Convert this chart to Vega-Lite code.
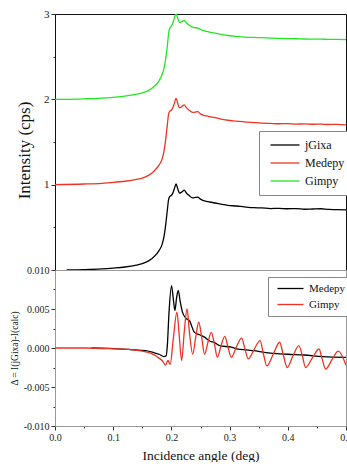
{
  "$schema": "https://vega.github.io/schema/vega-lite/v6.json",
  "padding": {"left": 8, "top": 7, "right": 0, "bottom": 0},
  "spacing": 0,
  "bounds": "flush",
  "background": "white",
  "config": {
    "font": "Liberation Serif",
    "axis": {"labelFont": "Liberation Serif", "titleFont": "Liberation Serif", "labelColor": "#222", "titleColor": "#111", "grid": false, "labelFontSize": 10, "titleFontWeight": "normal", "tickColor": "#333", "domainColor": "#666"},
    "legend": {"labelFont": "Liberation Serif", "titleFont": "Liberation Serif"},
    "line": {"interpolate": "monotone", "strokeWidth": 1.3}
  },
  "datasets": {
    "top": [
      {"angle": 0.02, "intensity": 0.0, "series": "jGixa"},
      {"angle": 0.05, "intensity": 0.004, "series": "jGixa"},
      {"angle": 0.08, "intensity": 0.012, "series": "jGixa"},
      {"angle": 0.10, "intensity": 0.022, "series": "jGixa"},
      {"angle": 0.12, "intensity": 0.035, "series": "jGixa"},
      {"angle": 0.14, "intensity": 0.058, "series": "jGixa"},
      {"angle": 0.15, "intensity": 0.075, "series": "jGixa"},
      {"angle": 0.1615, "intensity": 0.11, "series": "jGixa"},
      {"angle": 0.17, "intensity": 0.155, "series": "jGixa"},
      {"angle": 0.179, "intensity": 0.23, "series": "jGixa"},
      {"angle": 0.184, "intensity": 0.30, "series": "jGixa"},
      {"angle": 0.1875, "intensity": 0.40, "series": "jGixa"},
      {"angle": 0.19, "intensity": 0.52, "series": "jGixa"},
      {"angle": 0.193, "intensity": 0.70, "series": "jGixa"},
      {"angle": 0.195, "intensity": 0.82, "series": "jGixa"},
      {"angle": 0.197, "intensity": 0.86, "series": "jGixa"},
      {"angle": 0.2, "intensity": 0.875, "series": "jGixa"},
      {"angle": 0.202, "intensity": 0.895, "series": "jGixa"},
      {"angle": 0.205, "intensity": 0.95, "series": "jGixa"},
      {"angle": 0.208, "intensity": 1.01, "series": "jGixa"},
      {"angle": 0.211, "intensity": 0.95, "series": "jGixa"},
      {"angle": 0.214, "intensity": 0.90, "series": "jGixa"},
      {"angle": 0.218, "intensity": 0.915, "series": "jGixa"},
      {"angle": 0.222, "intensity": 0.935, "series": "jGixa"},
      {"angle": 0.226, "intensity": 0.90, "series": "jGixa"},
      {"angle": 0.23, "intensity": 0.875, "series": "jGixa"},
      {"angle": 0.2366, "intensity": 0.845, "series": "jGixa"},
      {"angle": 0.241, "intensity": 0.85, "series": "jGixa"},
      {"angle": 0.245, "intensity": 0.855, "series": "jGixa"},
      {"angle": 0.25, "intensity": 0.83, "series": "jGixa"},
      {"angle": 0.254, "intensity": 0.815, "series": "jGixa"},
      {"angle": 0.26, "intensity": 0.805, "series": "jGixa"},
      {"angle": 0.2656, "intensity": 0.797, "series": "jGixa"},
      {"angle": 0.275, "intensity": 0.785, "series": "jGixa"},
      {"angle": 0.283, "intensity": 0.775, "series": "jGixa"},
      {"angle": 0.297, "intensity": 0.758, "series": "jGixa"},
      {"angle": 0.312, "intensity": 0.75, "series": "jGixa"},
      {"angle": 0.325, "intensity": 0.74, "series": "jGixa"},
      {"angle": 0.341, "intensity": 0.73, "series": "jGixa"},
      {"angle": 0.355, "intensity": 0.728, "series": "jGixa"},
      {"angle": 0.37, "intensity": 0.72, "series": "jGixa"},
      {"angle": 0.385, "intensity": 0.722, "series": "jGixa"},
      {"angle": 0.399, "intensity": 0.718, "series": "jGixa"},
      {"angle": 0.415, "intensity": 0.72, "series": "jGixa"},
      {"angle": 0.428, "intensity": 0.712, "series": "jGixa"},
      {"angle": 0.443, "intensity": 0.715, "series": "jGixa"},
      {"angle": 0.457, "intensity": 0.718, "series": "jGixa"},
      {"angle": 0.47, "intensity": 0.71, "series": "jGixa"},
      {"angle": 0.485, "intensity": 0.708, "series": "jGixa"},
      {"angle": 0.5, "intensity": 0.705, "series": "jGixa"},

      {"angle": 0.0, "intensity": 1.0, "series": "Medepy"},
      {"angle": 0.05, "intensity": 1.008, "series": "Medepy"},
      {"angle": 0.08, "intensity": 1.016, "series": "Medepy"},
      {"angle": 0.10, "intensity": 1.026, "series": "Medepy"},
      {"angle": 0.12, "intensity": 1.04, "series": "Medepy"},
      {"angle": 0.14, "intensity": 1.062, "series": "Medepy"},
      {"angle": 0.15, "intensity": 1.078, "series": "Medepy"},
      {"angle": 0.1615, "intensity": 1.112, "series": "Medepy"},
      {"angle": 0.17, "intensity": 1.157, "series": "Medepy"},
      {"angle": 0.179, "intensity": 1.232, "series": "Medepy"},
      {"angle": 0.184, "intensity": 1.30, "series": "Medepy"},
      {"angle": 0.1875, "intensity": 1.40, "series": "Medepy"},
      {"angle": 0.19, "intensity": 1.52, "series": "Medepy"},
      {"angle": 0.193, "intensity": 1.70, "series": "Medepy"},
      {"angle": 0.195, "intensity": 1.82, "series": "Medepy"},
      {"angle": 0.197, "intensity": 1.86, "series": "Medepy"},
      {"angle": 0.2, "intensity": 1.875, "series": "Medepy"},
      {"angle": 0.202, "intensity": 1.895, "series": "Medepy"},
      {"angle": 0.205, "intensity": 1.95, "series": "Medepy"},
      {"angle": 0.208, "intensity": 2.01, "series": "Medepy"},
      {"angle": 0.211, "intensity": 1.95, "series": "Medepy"},
      {"angle": 0.214, "intensity": 1.90, "series": "Medepy"},
      {"angle": 0.218, "intensity": 1.915, "series": "Medepy"},
      {"angle": 0.222, "intensity": 1.935, "series": "Medepy"},
      {"angle": 0.226, "intensity": 1.90, "series": "Medepy"},
      {"angle": 0.23, "intensity": 1.875, "series": "Medepy"},
      {"angle": 0.2366, "intensity": 1.848, "series": "Medepy"},
      {"angle": 0.241, "intensity": 1.85, "series": "Medepy"},
      {"angle": 0.245, "intensity": 1.855, "series": "Medepy"},
      {"angle": 0.25, "intensity": 1.83, "series": "Medepy"},
      {"angle": 0.254, "intensity": 1.815, "series": "Medepy"},
      {"angle": 0.26, "intensity": 1.805, "series": "Medepy"},
      {"angle": 0.2656, "intensity": 1.797, "series": "Medepy"},
      {"angle": 0.275, "intensity": 1.785, "series": "Medepy"},
      {"angle": 0.283, "intensity": 1.772, "series": "Medepy"},
      {"angle": 0.297, "intensity": 1.755, "series": "Medepy"},
      {"angle": 0.312, "intensity": 1.745, "series": "Medepy"},
      {"angle": 0.325, "intensity": 1.735, "series": "Medepy"},
      {"angle": 0.341, "intensity": 1.728, "series": "Medepy"},
      {"angle": 0.355, "intensity": 1.722, "series": "Medepy"},
      {"angle": 0.37, "intensity": 1.718, "series": "Medepy"},
      {"angle": 0.385, "intensity": 1.714, "series": "Medepy"},
      {"angle": 0.399, "intensity": 1.716, "series": "Medepy"},
      {"angle": 0.415, "intensity": 1.71, "series": "Medepy"},
      {"angle": 0.428, "intensity": 1.712, "series": "Medepy"},
      {"angle": 0.443, "intensity": 1.708, "series": "Medepy"},
      {"angle": 0.457, "intensity": 1.71, "series": "Medepy"},
      {"angle": 0.47, "intensity": 1.705, "series": "Medepy"},
      {"angle": 0.485, "intensity": 1.706, "series": "Medepy"},
      {"angle": 0.5, "intensity": 1.70, "series": "Medepy"},

      {"angle": 0.0, "intensity": 2.0, "series": "Gimpy"},
      {"angle": 0.05, "intensity": 2.006, "series": "Gimpy"},
      {"angle": 0.08, "intensity": 2.014, "series": "Gimpy"},
      {"angle": 0.10, "intensity": 2.024, "series": "Gimpy"},
      {"angle": 0.12, "intensity": 2.037, "series": "Gimpy"},
      {"angle": 0.14, "intensity": 2.06, "series": "Gimpy"},
      {"angle": 0.15, "intensity": 2.077, "series": "Gimpy"},
      {"angle": 0.1615, "intensity": 2.105, "series": "Gimpy"},
      {"angle": 0.17, "intensity": 2.15, "series": "Gimpy"},
      {"angle": 0.179, "intensity": 2.22, "series": "Gimpy"},
      {"angle": 0.184, "intensity": 2.29, "series": "Gimpy"},
      {"angle": 0.1875, "intensity": 2.37, "series": "Gimpy"},
      {"angle": 0.19, "intensity": 2.47, "series": "Gimpy"},
      {"angle": 0.193, "intensity": 2.62, "series": "Gimpy"},
      {"angle": 0.195, "intensity": 2.76, "series": "Gimpy"},
      {"angle": 0.197, "intensity": 2.83, "series": "Gimpy"},
      {"angle": 0.2, "intensity": 2.86, "series": "Gimpy"},
      {"angle": 0.202, "intensity": 2.885, "series": "Gimpy"},
      {"angle": 0.205, "intensity": 2.95, "series": "Gimpy"},
      {"angle": 0.208, "intensity": 3.0, "series": "Gimpy"},
      {"angle": 0.211, "intensity": 2.95, "series": "Gimpy"},
      {"angle": 0.214, "intensity": 2.90, "series": "Gimpy"},
      {"angle": 0.218, "intensity": 2.91, "series": "Gimpy"},
      {"angle": 0.222, "intensity": 2.925, "series": "Gimpy"},
      {"angle": 0.226, "intensity": 2.895, "series": "Gimpy"},
      {"angle": 0.23, "intensity": 2.872, "series": "Gimpy"},
      {"angle": 0.2366, "intensity": 2.845, "series": "Gimpy"},
      {"angle": 0.241, "intensity": 2.84, "series": "Gimpy"},
      {"angle": 0.245, "intensity": 2.835, "series": "Gimpy"},
      {"angle": 0.25, "intensity": 2.82, "series": "Gimpy"},
      {"angle": 0.254, "intensity": 2.808, "series": "Gimpy"},
      {"angle": 0.26, "intensity": 2.797, "series": "Gimpy"},
      {"angle": 0.2656, "intensity": 2.788, "series": "Gimpy"},
      {"angle": 0.275, "intensity": 2.775, "series": "Gimpy"},
      {"angle": 0.283, "intensity": 2.765, "series": "Gimpy"},
      {"angle": 0.297, "intensity": 2.748, "series": "Gimpy"},
      {"angle": 0.312, "intensity": 2.738, "series": "Gimpy"},
      {"angle": 0.325, "intensity": 2.73, "series": "Gimpy"},
      {"angle": 0.341, "intensity": 2.725, "series": "Gimpy"},
      {"angle": 0.355, "intensity": 2.722, "series": "Gimpy"},
      {"angle": 0.37, "intensity": 2.718, "series": "Gimpy"},
      {"angle": 0.385, "intensity": 2.714, "series": "Gimpy"},
      {"angle": 0.399, "intensity": 2.712, "series": "Gimpy"},
      {"angle": 0.415, "intensity": 2.71, "series": "Gimpy"},
      {"angle": 0.428, "intensity": 2.707, "series": "Gimpy"},
      {"angle": 0.443, "intensity": 2.706, "series": "Gimpy"},
      {"angle": 0.457, "intensity": 2.705, "series": "Gimpy"},
      {"angle": 0.47, "intensity": 2.703, "series": "Gimpy"},
      {"angle": 0.485, "intensity": 2.702, "series": "Gimpy"},
      {"angle": 0.5, "intensity": 2.70, "series": "Gimpy"}
    ],
    "bottom": [
      {"angle": 0.0625, "delta": 0.0, "series": "Medepy"},
      {"angle": 0.09, "delta": -0.00005, "series": "Medepy"},
      {"angle": 0.109, "delta": -0.0001, "series": "Medepy"},
      {"angle": 0.13, "delta": -0.0002, "series": "Medepy"},
      {"angle": 0.156, "delta": -0.00035, "series": "Medepy"},
      {"angle": 0.17, "delta": -0.0006, "series": "Medepy"},
      {"angle": 0.179, "delta": -0.0008, "series": "Medepy"},
      {"angle": 0.187, "delta": -0.0011, "series": "Medepy"},
      {"angle": 0.191, "delta": -0.001, "series": "Medepy"},
      {"angle": 0.193, "delta": 0.0003, "series": "Medepy"},
      {"angle": 0.196, "delta": 0.0047, "series": "Medepy"},
      {"angle": 0.2002, "delta": 0.008, "series": "Medepy"},
      {"angle": 0.203, "delta": 0.0065, "series": "Medepy"},
      {"angle": 0.206, "delta": 0.0048, "series": "Medepy"},
      {"angle": 0.209, "delta": 0.0065, "series": "Medepy"},
      {"angle": 0.2118, "delta": 0.0074, "series": "Medepy"},
      {"angle": 0.215, "delta": 0.006, "series": "Medepy"},
      {"angle": 0.219, "delta": 0.0046, "series": "Medepy"},
      {"angle": 0.225, "delta": 0.0038, "series": "Medepy"},
      {"angle": 0.231, "delta": 0.0035, "series": "Medepy"},
      {"angle": 0.2396, "delta": 0.002, "series": "Medepy"},
      {"angle": 0.248, "delta": 0.0017, "series": "Medepy"},
      {"angle": 0.257, "delta": 0.0014, "series": "Medepy"},
      {"angle": 0.2656, "delta": 0.0009, "series": "Medepy"},
      {"angle": 0.274, "delta": 0.0007, "series": "Medepy"},
      {"angle": 0.283, "delta": 0.0003, "series": "Medepy"},
      {"angle": 0.303, "delta": 0.0001, "series": "Medepy"},
      {"angle": 0.312, "delta": -0.0001, "series": "Medepy"},
      {"angle": 0.332, "delta": -0.00026, "series": "Medepy"},
      {"angle": 0.341, "delta": -0.00035, "series": "Medepy"},
      {"angle": 0.37, "delta": -0.00065, "series": "Medepy"},
      {"angle": 0.4, "delta": -0.0008, "series": "Medepy"},
      {"angle": 0.428, "delta": -0.0009, "series": "Medepy"},
      {"angle": 0.46, "delta": -0.0011, "series": "Medepy"},
      {"angle": 0.5, "delta": -0.0012, "series": "Medepy"},

      {"angle": 0.0, "delta": 0.0, "series": "Gimpy"},
      {"angle": 0.05, "delta": 0.0, "series": "Gimpy"},
      {"angle": 0.1, "delta": -0.0001, "series": "Gimpy"},
      {"angle": 0.13, "delta": -0.0002, "series": "Gimpy"},
      {"angle": 0.15, "delta": -0.0004, "series": "Gimpy"},
      {"angle": 0.165, "delta": -0.0007, "series": "Gimpy"},
      {"angle": 0.175, "delta": -0.0011, "series": "Gimpy"},
      {"angle": 0.185, "delta": -0.0017, "series": "Gimpy"},
      {"angle": 0.19, "delta": -0.0022, "series": "Gimpy"},
      {"angle": 0.194, "delta": -0.0016, "series": "Gimpy"},
      {"angle": 0.198, "delta": -0.0021, "series": "Gimpy"},
      {"angle": 0.203, "delta": 0.001, "series": "Gimpy"},
      {"angle": 0.2095, "delta": 0.0046, "series": "Gimpy"},
      {"angle": 0.213, "delta": 0.002, "series": "Gimpy"},
      {"angle": 0.2176, "delta": -0.0016, "series": "Gimpy"},
      {"angle": 0.222, "delta": 0.002, "series": "Gimpy"},
      {"angle": 0.2269, "delta": 0.005, "series": "Gimpy"},
      {"angle": 0.231, "delta": 0.002, "series": "Gimpy"},
      {"angle": 0.2366, "delta": -0.0008, "series": "Gimpy"},
      {"angle": 0.242, "delta": 0.0015, "series": "Gimpy"},
      {"angle": 0.247, "delta": 0.0033, "series": "Gimpy"},
      {"angle": 0.252, "delta": 0.0014, "series": "Gimpy"},
      {"angle": 0.257, "delta": -0.0008, "series": "Gimpy"},
      {"angle": 0.263, "delta": 0.0008, "series": "Gimpy"},
      {"angle": 0.2686, "delta": 0.002, "series": "Gimpy"},
      {"angle": 0.274, "delta": 0.0005, "series": "Gimpy"},
      {"angle": 0.279, "delta": -0.0012, "series": "Gimpy"},
      {"angle": 0.285, "delta": 0.0002, "series": "Gimpy"},
      {"angle": 0.2917, "delta": 0.0015, "series": "Gimpy"},
      {"angle": 0.297, "delta": 0.0002, "series": "Gimpy"},
      {"angle": 0.303, "delta": -0.0012, "series": "Gimpy"},
      {"angle": 0.312, "delta": 0.0002, "series": "Gimpy"},
      {"angle": 0.3206, "delta": 0.00126, "series": "Gimpy"},
      {"angle": 0.326, "delta": 0.0, "series": "Gimpy"},
      {"angle": 0.332, "delta": -0.0014, "series": "Gimpy"},
      {"angle": 0.342, "delta": -0.0002, "series": "Gimpy"},
      {"angle": 0.3524, "delta": 0.00095, "series": "Gimpy"},
      {"angle": 0.358, "delta": -0.0007, "series": "Gimpy"},
      {"angle": 0.364, "delta": -0.0023, "series": "Gimpy"},
      {"angle": 0.375, "delta": -0.0008, "series": "Gimpy"},
      {"angle": 0.386, "delta": 0.00074, "series": "Gimpy"},
      {"angle": 0.392, "delta": -0.0008, "series": "Gimpy"},
      {"angle": 0.399, "delta": -0.0025, "series": "Gimpy"},
      {"angle": 0.409, "delta": -0.001, "series": "Gimpy"},
      {"angle": 0.419, "delta": 0.0003, "series": "Gimpy"},
      {"angle": 0.425, "delta": -0.001, "series": "Gimpy"},
      {"angle": 0.4306, "delta": -0.0025, "series": "Gimpy"},
      {"angle": 0.442, "delta": -0.0013, "series": "Gimpy"},
      {"angle": 0.4537, "delta": -0.00013, "series": "Gimpy"},
      {"angle": 0.459, "delta": -0.0014, "series": "Gimpy"},
      {"angle": 0.465, "delta": -0.0027, "series": "Gimpy"},
      {"angle": 0.476, "delta": -0.0015, "series": "Gimpy"},
      {"angle": 0.4866, "delta": -0.0004, "series": "Gimpy"},
      {"angle": 0.5, "delta": -0.0022, "series": "Gimpy"}
    ]
  },
  "vconcat": [
    {
      "width": 291,
      "height": 256,
      "view": {"stroke": "#111", "strokeWidth": 1},
      "data": {"name": "top"},
      "mark": {"type": "line", "clip": true},
      "encoding": {
        "x": {"field": "angle", "type": "quantitative", "scale": {"domain": [0, 0.5], "nice": false}, "axis": null},
        "y": {"field": "intensity", "type": "quantitative", "scale": {"domain": [0, 3], "nice": false},
          "axis": {"title": "Intensity (cps)", "titleFontSize": 17, "titlePadding": 10, "titleY": 136, "domainColor": "#111",
            "values": [0.5, 1, 1.5, 2, 2.5, 3],
            "labelExpr": "datum.value >= 1 && abs(round(datum.value*2)) % 2 == 0 ? format(datum.value, 'd') : ''",
            "tickSize": {"condition": {"test": "abs(round(datum.value*2)) % 2 == 1", "value": 2}, "value": 4},
            "labelPadding": 2, "labelFontSize": 11, "labelFont": "Liberation Serif"}},
        "color": {"field": "series", "type": "nominal",
          "scale": {"domain": ["jGixa", "Medepy", "Gimpy"], "range": ["#000000", "#ee3322", "#22e622"]},
          "sort": ["jGixa", "Medepy", "Gimpy"],
          "legend": {"title": null, "orient": "none", "legendX": 204, "legendY": 117,
            "symbolType": "M-1,0H10.6", "symbolSize": 25, "symbolStrokeWidth": 1.6,
            "labelFont": "Liberation Serif", "labelFontSize": 12, "labelColor": "#111", "labelOffset": 26,
            "strokeColor": "#888", "fillColor": "white", "padding": 8, "rowPadding": 6}}
      }
    },
    {
      "width": 291,
      "height": 156,
      "view": {"stroke": "#999", "strokeWidth": 1},
      "data": {"name": "bottom"},
      "mark": {"type": "line", "clip": true},
      "encoding": {
        "x": {"field": "angle", "type": "quantitative", "scale": {"domain": [0, 0.5], "nice": false},
          "axis": {"title": "Incidence angle (deg)", "titleFontSize": 13.5, "titlePadding": 6, "labelFlush": false,
            "values": [0, 0.05, 0.1, 0.15, 0.2, 0.25, 0.3, 0.35, 0.4, 0.45, 0.5],
            "labelExpr": "abs(round(datum.value*20)) % 2 == 1 ? '' : format(datum.value, '.1f')",
            "tickSize": {"condition": {"test": "abs(round(datum.value*20)) % 2 == 1", "value": 2}, "value": 4},
            "domainColor": "#999", "labelPadding": 2, "labelFont": "Liberation Serif"}},
        "y": {"field": "delta", "type": "quantitative", "scale": {"domain": [-0.01, 0.01], "nice": false},
          "axis": {"title": "Δ = I(jGixa)-I(calc)", "titleFontSize": 9.5, "titlePadding": 4,
            "values": [-0.01, -0.0075, -0.005, -0.0025, 0, 0.0025, 0.005, 0.0075, 0.01],
            "labelExpr": "abs(round(datum.value*400)) % 2 == 1 ? '' : replace(format(datum.value, '.3f'), '\u2212', '-')",
            "tickSize": {"condition": {"test": "abs(round(datum.value*400)) % 2 == 1", "value": 2}, "value": 4},
            "domainColor": "#999", "labelPadding": 2, "labelFontSize": 10, "labelFont": "Liberation Serif"}},
        "color": {"field": "series", "type": "nominal",
          "scale": {"domain": ["Medepy", "Gimpy"], "range": ["#000000", "#ee3322"]},
          "legend": {"title": null, "orient": "none", "legendX": 213, "legendY": 7,
            "symbolType": "M-1,0H12", "symbolSize": 16, "symbolStrokeWidth": 1.3,
            "labelFont": "Liberation Serif", "labelFontSize": 11, "labelColor": "#111", "labelOffset": 24,
            "strokeColor": "#888", "fillColor": "white", "padding": 6, "rowPadding": 4}}
      }
    }
  ],
  "resolve": {"scale": {"color": "independent"}, "legend": {"color": "independent"}}
}
